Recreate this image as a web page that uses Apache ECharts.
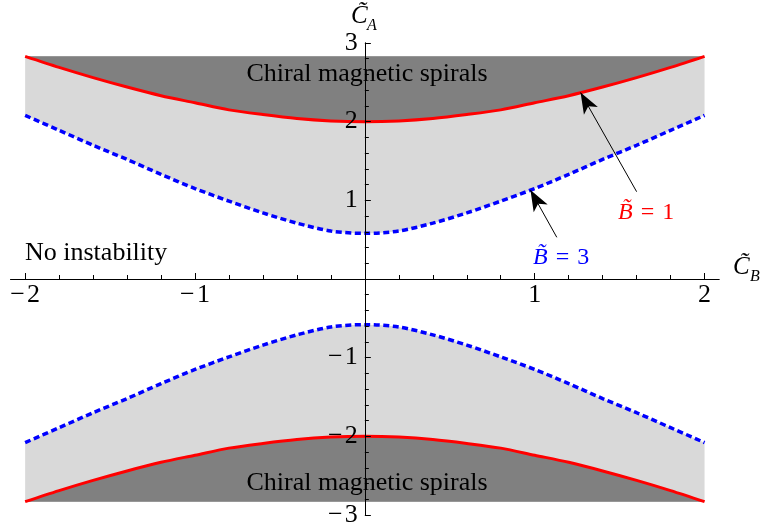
<!DOCTYPE html>
<html>
<head>
<meta charset="utf-8">
<script src="https://cdn.jsdelivr.net/npm/echarts@6/dist/echarts.min.js"></script>
<style>
  html, body { margin: 0; padding: 0; background: #fff; }
  #chart { width: 765px; height: 524px; }
</style>
</head>
<body>
<div id="chart"></div>
<script>
    var cbValues = [-2, -1.8, -1.6, -1.4, -1.2, -1, -0.8, -0.6, -0.4, -0.2, 0,
        0.2, 0.4, 0.6, 0.8, 1, 1.2, 1.4, 1.6, 1.8, 2];
    // B = 1 boundary (red), upper and lower branch
    var redUpper = [2.83, 2.69, 2.56, 2.44, 2.33, 2.24, 2.15, 2.09, 2.04, 2.01, 2.00,
        2.01, 2.04, 2.09, 2.15, 2.24, 2.33, 2.44, 2.56, 2.69, 2.83];
    var redLower = [-2.83, -2.69, -2.56, -2.44, -2.33, -2.24, -2.15, -2.09, -2.04, -2.01, -2.00,
        -2.01, -2.04, -2.09, -2.15, -2.24, -2.33, -2.44, -2.56, -2.69, -2.83];
    // B = 3 boundary (blue, dotted)
    var blueUpper = [2.08, 1.89, 1.70, 1.52, 1.33, 1.15, 0.99, 0.84, 0.71, 0.61, 0.58,
        0.61, 0.71, 0.84, 0.99, 1.15, 1.33, 1.52, 1.70, 1.89, 2.08];
    var blueLower = [-2.08, -1.89, -1.70, -1.52, -1.33, -1.15, -0.99, -0.84, -0.71, -0.61, -0.58,
        -0.61, -0.71, -0.84, -0.99, -1.15, -1.33, -1.52, -1.70, -1.89, -2.08];
    // edge of the shaded plot range
    var shadeTop = 2.83;
    var shadeBottom = -2.83;

    // ticks and labels
    var xMajor = [-2, -1, 1, 2];
    var xLabels = ['\u2212\u200a2', '\u2212\u200a1', '1', '2'];
    var xMinor = [-1.8, -1.6, -1.4, -1.2, -0.8, -0.6, -0.4, -0.2,
        0.2, 0.4, 0.6, 0.8, 1.2, 1.4, 1.6, 1.8];
    var yMajor = [-3, -2, -1, 1, 2, 3];
    var yLabels = ['\u2212\u200a3', '\u2212\u200a2', '\u2212\u200a1', '1', '2', '3'];
    var yMinor = [-2.8, -2.6, -2.4, -2.2, -1.8, -1.6, -1.4, -1.2, -0.8, -0.6, -0.4, -0.2,
        0.2, 0.4, 0.6, 0.8, 1.2, 1.4, 1.6, 1.8, 2.2, 2.4, 2.6, 2.8];

    // arrows: [tail, tip]
    var arrowRed = [[1.60, 1.11], [1.27, 2.37]];
    var arrowBlue = [[1.13, 0.53], [0.975, 1.13]];

    function pairs(ys) {
        return cbValues.map(function (x, i) { return [x, ys[i]]; });
    }
    function lookup(values, labels) {
        return function (v) {
            for (var i = 0; i < values.length; i++) {
                if (Math.abs(values[i] - v) < 1e-6) return labels[i];
            }
            return '';
        };
    }

    var serif = '"Liberation Serif", "DejaVu Serif", serif';
    var black = '#000';

    // plot box; the axes cross at the origin, so they are shifted inward
    var gridLeft = 10.7, gridRight = 46, gridTop = 43, gridBottom = 9;
    var xMin = -2.085, xMax = 2.085, yMin = -3, yMax = 3;
    var W = 765, H = 524;
    var xOffset = -(H - gridTop - gridBottom) * (0 - yMin) / (yMax - yMin);
    var yOffset = -(W - gridLeft - gridRight) * (0 - xMin) / (xMax - xMin);

    var myChart = echarts.init(document.getElementById('chart'), null, {renderer: 'canvas'});

    var arrowLine = function (pts) {
        return {
            silent: true,
            animation: false,
            symbolSize: [12, 21],
            lineStyle: {color: black, width: 1, type: 'solid'},
            label: {show: false},
            data: [[
                {coord: pts[0], symbol: 'none'},
                {coord: pts[1], symbol: 'arrow'}
            ]]
        };
    };

    var lineStyle = {onZero: false, lineStyle: {color: black, width: 1}};
    var tickFont = {color: black, fontFamily: serif, fontSize: 26};

    var option = {
        animation: false,
        grid: {
            left: gridLeft,
            right: gridRight,
            top: gridTop,
            bottom: gridBottom,
            containLabel: false,
            outerBoundsMode: 'none'
        },
        xAxis: [
            {
                type: 'value',
                position: 'bottom',
                offset: xOffset,
                min: xMin,
                max: xMax,
                z: 5,
                splitLine: {show: false},
                axisLine: lineStyle,
                axisTick: {inside: true, length: 6, customValues: xMajor, lineStyle: {color: black}},
                axisLabel: Object.assign({customValues: xMajor, formatter: lookup(xMajor, xLabels), margin: 3}, tickFont)
            },
            {
                type: 'value',
                position: 'bottom',
                offset: xOffset,
                min: xMin,
                max: xMax,
                z: 5,
                splitLine: {show: false},
                axisLine: lineStyle,
                axisTick: {inside: true, length: 4, customValues: xMinor, lineStyle: {color: black}},
                axisLabel: {show: false}
            }
        ],
        yAxis: [
            {
                type: 'value',
                position: 'left',
                offset: yOffset,
                min: yMin,
                max: yMax,
                z: 5,
                splitLine: {show: false},
                axisLine: lineStyle,
                axisTick: {inside: true, length: 6, customValues: yMajor, lineStyle: {color: black}},
                axisLabel: Object.assign({customValues: yMajor, formatter: lookup(yMajor, yLabels), margin: 7}, tickFont)
            },
            {
                type: 'value',
                position: 'left',
                offset: yOffset,
                min: yMin,
                max: yMax,
                z: 5,
                splitLine: {show: false},
                axisLine: lineStyle,
                axisTick: {inside: true, length: 4, customValues: yMinor, lineStyle: {color: black}},
                axisLabel: {show: false}
            }
        ],
        series: [
            {
                name: 'B=3 upper',
                type: 'line',
                data: pairs(blueUpper),
                smooth: 0.3,
                showSymbol: false,
                lineStyle: {color: '#0000ff', width: 3.5, type: [6, 3.5]},
                areaStyle: {color: '#d9d9d9', opacity: 1, origin: shadeTop},
                markLine: arrowLine(arrowBlue)
            },
            {
                name: 'B=3 lower',
                type: 'line',
                data: pairs(blueLower),
                smooth: 0.3,
                showSymbol: false,
                lineStyle: {color: '#0000ff', width: 3.5, type: [6, 3.5]},
                areaStyle: {color: '#d9d9d9', opacity: 1, origin: shadeBottom}
            },
            {
                name: 'B=1 upper',
                type: 'line',
                data: pairs(redUpper),
                smooth: 0.3,
                showSymbol: false,
                lineStyle: {color: '#ff0000', width: 3},
                areaStyle: {color: '#808080', opacity: 1, origin: shadeTop},
                markLine: arrowLine(arrowRed)
            },
            {
                name: 'B=1 lower',
                type: 'line',
                data: pairs(redLower),
                smooth: 0.3,
                showSymbol: false,
                lineStyle: {color: '#ff0000', width: 3},
                areaStyle: {color: '#808080', opacity: 1, origin: shadeBottom}
            }
        ],
        graphic: [
            {type: 'text', z: 10, x: 367, y: 74, style: {
                text: 'Chiral magnetic spirals', fill: black, font: '26px ' + serif,
                textAlign: 'center', textVerticalAlign: 'middle'}},
            {type: 'text', z: 10, x: 367, y: 483, style: {
                text: 'Chiral magnetic spirals', fill: black, font: '26px ' + serif,
                textAlign: 'center', textVerticalAlign: 'middle'}},
            {type: 'text', z: 10, x: 25, y: 253, style: {
                text: 'No instability', fill: black, font: '26px ' + serif,
                textAlign: 'left', textVerticalAlign: 'middle'}},
            {type: 'text', z: 10, x: 618, y: 213, style: {
                text: '{i|B\u0303}{n|\u2004=\u20041}', fill: '#ff0000', textVerticalAlign: 'middle',
                rich: {
                    i: {fontFamily: serif, fontSize: 24, fontStyle: 'italic', fill: '#ff0000'},
                    n: {fontFamily: serif, fontSize: 24, fill: '#ff0000'}
                }}},
            {type: 'text', z: 10, x: 533, y: 258, style: {
                text: '{i|B\u0303}{n|\u2004=\u20043}', fill: '#0000ff', textVerticalAlign: 'middle',
                rich: {
                    i: {fontFamily: serif, fontSize: 24, fontStyle: 'italic', fill: '#0000ff'},
                    n: {fontFamily: serif, fontSize: 24, fill: '#0000ff'}
                }}},
            // axis names
            {type: 'text', z: 10, x: 351, y: 29, style: {
                text: 'C\u0303', fill: black, font: 'italic 25px ' + serif,
                textAlign: 'left', textVerticalAlign: 'bottom'}},
            {type: 'text', z: 10, x: 367, y: 34, style: {
                text: 'A', fill: black, font: 'italic 16px ' + serif,
                textAlign: 'left', textVerticalAlign: 'bottom'}},
            {type: 'text', z: 10, x: 733, y: 280, style: {
                text: 'C\u0303', fill: black, font: 'italic 25px ' + serif,
                textAlign: 'left', textVerticalAlign: 'bottom'}},
            {type: 'text', z: 10, x: 750, y: 285, style: {
                text: 'B', fill: black, font: 'italic 16px ' + serif,
                textAlign: 'left', textVerticalAlign: 'bottom'}}
        ]
    };

    myChart.setOption(option);
    window.onresize = function () {
        myChart.resize();
    };
</script>
</body>
</html>
